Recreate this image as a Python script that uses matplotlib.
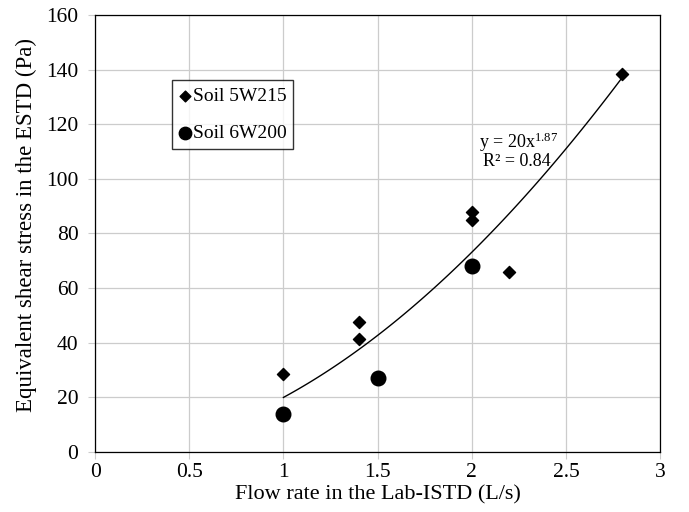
import numpy as np
import matplotlib.pyplot as plt

plt.rcParams['font.family'] = ['Liberation Serif', 'DejaVu Serif']
plt.rcParams['mathtext.fontset'] = 'custom'
plt.rcParams['mathtext.rm'] = 'Liberation Serif'
plt.rcParams['mathtext.it'] = 'Liberation Serif'

# Soil 5W215 (diamonds)
x_5w = [1.0, 1.4, 1.4, 2.0, 2.0, 2.2, 2.8]
y_5w = [28.5, 47.5, 41.5, 88.0, 85.0, 66.0, 138.5]
# Soil 6W200 (circles)
x_6w = [1.0, 1.5, 2.0]
y_6w = [14.0, 27.0, 68.0]
# power fit y = a x^b
fit_a = 20
fit_b = 1.87

fig = plt.figure(figsize=(6.89, 5.12), dpi=100)
ax = fig.add_axes([0.138, 0.117, 0.82, 0.854])

ax.scatter(x_5w, y_5w, marker='D', s=38, c='black', label='Soil 5W215', zorder=3)
ax.scatter(x_6w, y_6w, marker='o', s=110, c='black', label='Soil 6W200', zorder=3)

xf = np.linspace(1.0, 2.8, 100)
ax.plot(xf, fit_a * xf ** fit_b, color='black', lw=1.0, zorder=2)

ax.text(2.04, 113.5, r'y = 20x$^{\mathrm{1.87}}$', fontsize=13, ha='left', va='center')
ax.text(2.06, 106.2, 'R² = 0.84', fontsize=13, ha='left', va='center')

ax.set_xlim(0, 3)
ax.set_ylim(0, 160)
ax.set_xticks(np.arange(0, 3.01, 0.5))
ax.set_xticklabels(['0', '0.5', '1', '1.5', '2', '2.5', '3'])
ax.set_yticks(np.arange(0, 161, 20))
ax.grid(True, color='#cccccc', lw=0.9)
ax.set_axisbelow(True)
ax.tick_params(axis='both', labelsize=15.5, length=5, color='#cccccc')
ax.tick_params(axis='x', pad=3)
ax.tick_params(axis='y', pad=7)
for s in ax.spines.values():
    s.set_color('black')
    s.set_linewidth(0.9)

ax.set_xlabel('Flow rate in the Lab-ISTD (L/s)', fontsize=16, labelpad=2)
ax.set_ylabel('Equivalent shear stress in the ESTD (Pa)', fontsize=16.5)
ax.yaxis.set_label_coords(-0.103, 0.52)

leg = ax.legend(loc='upper left', bbox_to_anchor=(0.1363, 0.851), borderaxespad=0,
                fontsize=14, frameon=True, fancybox=False, edgecolor='black',
                handletextpad=0.1, handlelength=0.6, labelspacing=1.0,
                borderpad=0.36, scatterpoints=1)
leg.get_frame().set_linewidth(1.0)
leg.legend_handles[0].set_sizes([30])
leg.legend_handles[1].set_sizes([80])

fig.savefig('out.png', dpi=100)
